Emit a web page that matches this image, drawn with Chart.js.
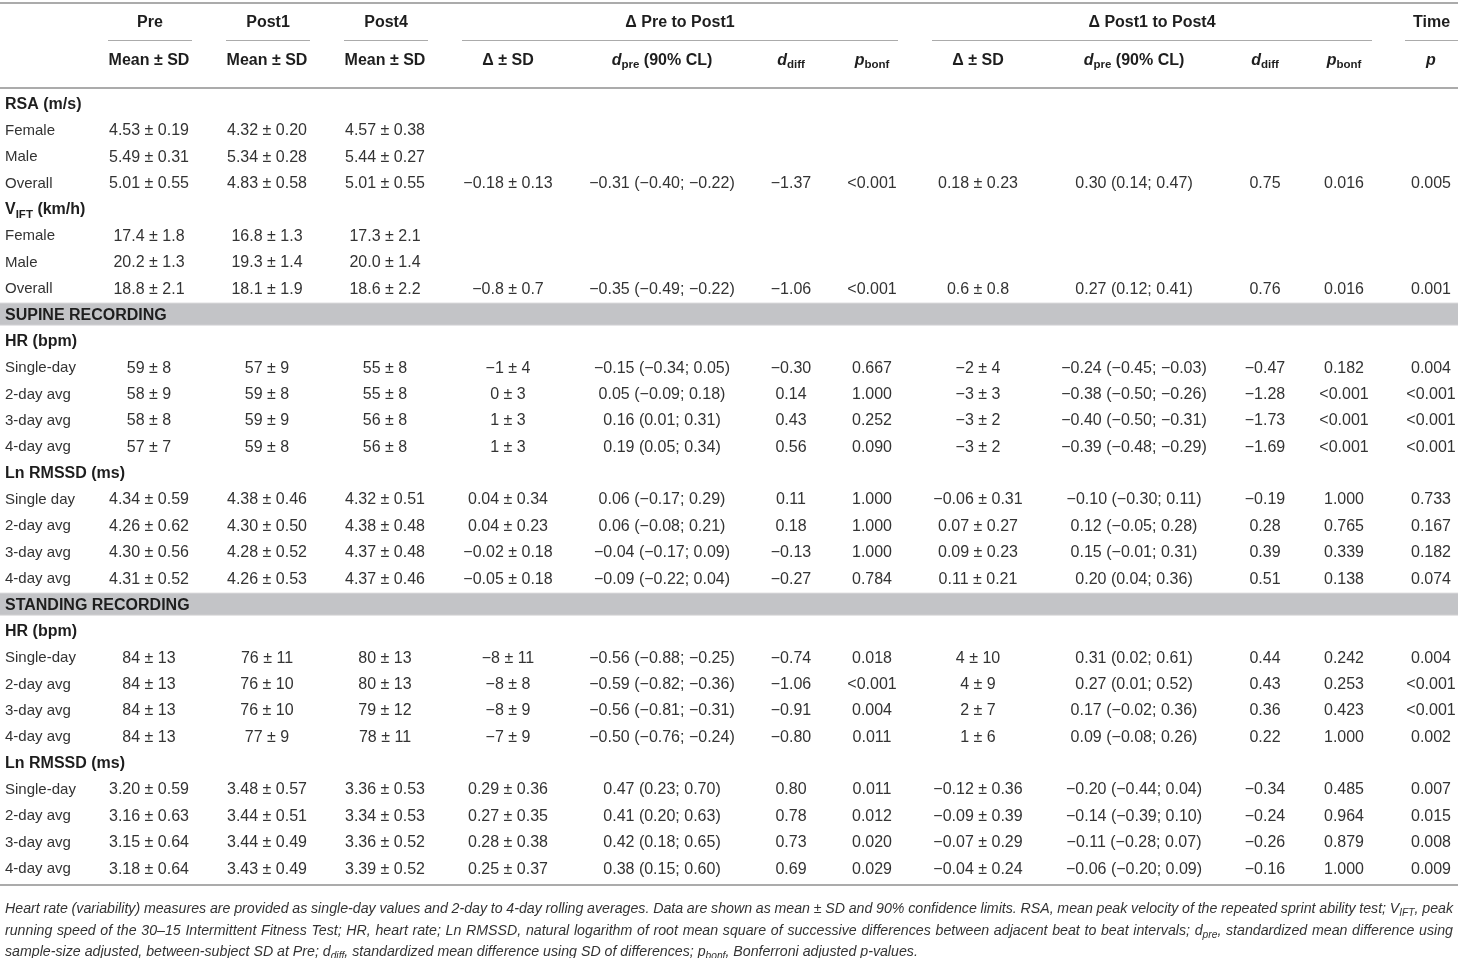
<!DOCTYPE html>
<html>
<head>
<meta charset="utf-8">
<script src="https://cdn.jsdelivr.net/npm/chart.js@4.4.0/dist/chart.umd.min.js"></script>
<style>
  html, body { margin: 0; padding: 0; background: #fff; }
  #wrap { width: 1458px; height: 958px; }
</style>
</head>
<body>
<div id="wrap"><canvas id="tbl"></canvas></div>
<script>
// ---- data ----
// row kinds: h = group heading (bold), r = normal row, b = grey band
const rowKinds = ['h','r','r','r','h','r','r','r','b','h','r','r','r','r','h','r','r','r','r','b','h','r','r','r','r','h','r','r','r','r'];
const rowLabels = [
  'RSA (m/s)', 'Female', 'Male', 'Overall',
  'V_{IFT} (km/h)', 'Female', 'Male', 'Overall',
  'SUPINE RECORDING',
  'HR (bpm)', 'Single-day', '2-day avg', '3-day avg', '4-day avg',
  'Ln RMSSD (ms)', 'Single day', '2-day avg', '3-day avg', '4-day avg',
  'STANDING RECORDING',
  'HR (bpm)', 'Single-day', '2-day avg', '3-day avg', '4-day avg',
  'Ln RMSSD (ms)', 'Single-day', '2-day avg', '3-day avg', '4-day avg'
];

const preVals = ['', '4.53 ± 0.19', '5.49 ± 0.31', '5.01 ± 0.55', '', '17.4 ± 1.8', '20.2 ± 1.3', '18.8 ± 2.1', '',
  '', '59 ± 8', '58 ± 9', '58 ± 8', '57 ± 7', '', '4.34 ± 0.59', '4.26 ± 0.62', '4.30 ± 0.56', '4.31 ± 0.52', '',
  '', '84 ± 13', '84 ± 13', '84 ± 13', '84 ± 13', '', '3.20 ± 0.59', '3.16 ± 0.63', '3.15 ± 0.64', '3.18 ± 0.64'];
const post1Vals = ['', '4.32 ± 0.20', '5.34 ± 0.28', '4.83 ± 0.58', '', '16.8 ± 1.3', '19.3 ± 1.4', '18.1 ± 1.9', '',
  '', '57 ± 9', '59 ± 8', '59 ± 9', '59 ± 8', '', '4.38 ± 0.46', '4.30 ± 0.50', '4.28 ± 0.52', '4.26 ± 0.53', '',
  '', '76 ± 11', '76 ± 10', '76 ± 10', '77 ± 9', '', '3.48 ± 0.57', '3.44 ± 0.51', '3.44 ± 0.49', '3.43 ± 0.49'];
const post4Vals = ['', '4.57 ± 0.38', '5.44 ± 0.27', '5.01 ± 0.55', '', '17.3 ± 2.1', '20.0 ± 1.4', '18.6 ± 2.2', '',
  '', '55 ± 8', '55 ± 8', '56 ± 8', '56 ± 8', '', '4.32 ± 0.51', '4.38 ± 0.48', '4.37 ± 0.48', '4.37 ± 0.46', '',
  '', '80 ± 13', '80 ± 13', '79 ± 12', '78 ± 11', '', '3.36 ± 0.53', '3.34 ± 0.53', '3.36 ± 0.52', '3.39 ± 0.52'];

const deltaA = ['', '', '', '−0.18 ± 0.13', '', '', '', '−0.8 ± 0.7', '',
  '', '−1 ± 4', '0 ± 3', '1 ± 3', '1 ± 3', '', '0.04 ± 0.34', '0.04 ± 0.23', '−0.02 ± 0.18', '−0.05 ± 0.18', '',
  '', '−8 ± 11', '−8 ± 8', '−8 ± 9', '−7 ± 9', '', '0.29 ± 0.36', '0.27 ± 0.35', '0.28 ± 0.38', '0.25 ± 0.37'];
const dpreA = ['', '', '', '−0.31 (−0.40; −0.22)', '', '', '', '−0.35 (−0.49; −0.22)', '',
  '', '−0.15 (−0.34; 0.05)', '0.05 (−0.09; 0.18)', '0.16 (0.01; 0.31)', '0.19 (0.05; 0.34)', '',
  '0.06 (−0.17; 0.29)', '0.06 (−0.08; 0.21)', '−0.04 (−0.17; 0.09)', '−0.09 (−0.22; 0.04)', '',
  '', '−0.56 (−0.88; −0.25)', '−0.59 (−0.82; −0.36)', '−0.56 (−0.81; −0.31)', '−0.50 (−0.76; −0.24)', '',
  '0.47 (0.23; 0.70)', '0.41 (0.20; 0.63)', '0.42 (0.18; 0.65)', '0.38 (0.15; 0.60)'];
const ddiffA = ['', '', '', '−1.37', '', '', '', '−1.06', '',
  '', '−0.30', '0.14', '0.43', '0.56', '', '0.11', '0.18', '−0.13', '−0.27', '',
  '', '−0.74', '−1.06', '−0.91', '−0.80', '', '0.80', '0.78', '0.73', '0.69'];
const pbonfA = ['', '', '', '<0.001', '', '', '', '<0.001', '',
  '', '0.667', '1.000', '0.252', '0.090', '', '1.000', '1.000', '1.000', '0.784', '',
  '', '0.018', '<0.001', '0.004', '0.011', '', '0.011', '0.012', '0.020', '0.029'];

const deltaB = ['', '', '', '0.18 ± 0.23', '', '', '', '0.6 ± 0.8', '',
  '', '−2 ± 4', '−3 ± 3', '−3 ± 2', '−3 ± 2', '', '−0.06 ± 0.31', '0.07 ± 0.27', '0.09 ± 0.23', '0.11 ± 0.21', '',
  '', '4 ± 10', '4 ± 9', '2 ± 7', '1 ± 6', '', '−0.12 ± 0.36', '−0.09 ± 0.39', '−0.07 ± 0.29', '−0.04 ± 0.24'];
const dpreB = ['', '', '', '0.30 (0.14; 0.47)', '', '', '', '0.27 (0.12; 0.41)', '',
  '', '−0.24 (−0.45; −0.03)', '−0.38 (−0.50; −0.26)', '−0.40 (−0.50; −0.31)', '−0.39 (−0.48; −0.29)', '',
  '−0.10 (−0.30; 0.11)', '0.12 (−0.05; 0.28)', '0.15 (−0.01; 0.31)', '0.20 (0.04; 0.36)', '',
  '', '0.31 (0.02; 0.61)', '0.27 (0.01; 0.52)', '0.17 (−0.02; 0.36)', '0.09 (−0.08; 0.26)', '',
  '−0.20 (−0.44; 0.04)', '−0.14 (−0.39; 0.10)', '−0.11 (−0.28; 0.07)', '−0.06 (−0.20; 0.09)'];
const ddiffB = ['', '', '', '0.75', '', '', '', '0.76', '',
  '', '−0.47', '−1.28', '−1.73', '−1.69', '', '−0.19', '0.28', '0.39', '0.51', '',
  '', '0.44', '0.43', '0.36', '0.22', '', '−0.34', '−0.24', '−0.26', '−0.16'];
const pbonfB = ['', '', '', '0.016', '', '', '', '0.016', '',
  '', '0.182', '<0.001', '<0.001', '<0.001', '', '1.000', '0.765', '0.339', '0.138', '',
  '', '0.242', '0.253', '0.423', '1.000', '', '0.485', '0.964', '0.879', '1.000'];
const timeP = ['', '', '', '0.005', '', '', '', '0.001', '',
  '', '0.004', '<0.001', '<0.001', '<0.001', '', '0.733', '0.167', '0.182', '0.074', '',
  '', '0.004', '<0.001', '<0.001', '0.002', '', '0.007', '0.015', '0.008', '0.009'];

const groupHeaders = ['Pre', 'Post1', 'Post4', 'Δ Pre to Post1', 'Δ Post1 to Post4', 'Time'];
const subHeaders = ['Mean ± SD', 'Mean ± SD', 'Mean ± SD', 'Δ ± SD', '*d*_{pre} (90% CL)', '*d*_{diff}', '*p*_{bonf}',
  'Δ ± SD', '*d*_{pre} (90% CL)', '*d*_{diff}', '*p*_{bonf}', '*p*'];

const footnote = [
  'Heart rate (variability) measures are provided as single-day values and 2-day to 4-day rolling averages. Data are shown as mean ± SD and 90% confidence limits. RSA, mean peak velocity of the repeated sprint ability test; V_{IFT}, peak',
  'running speed of the 30–15 Intermittent Fitness Test; HR, heart rate; Ln RMSSD, natural logarithm of root mean square of successive differences between adjacent beat to beat intervals; d_{pre}, standardized mean difference using',
  'sample-size adjusted, between-subject SD at Pre; d_{diff}, standardized mean difference using SD of differences; p_{bonf}, Bonferroni adjusted p-values.'
];

// ---- layout ----
const columns = [preVals, post1Vals, post4Vals, deltaA, dpreA, ddiffA, pbonfA, deltaB, dpreB, ddiffB, pbonfB, timeP];
const colX = [149, 267, 385, 508, 662, 791, 872, 978, 1134, 1265, 1344, 1431];
const groupSpans = [[108, 192], [226, 310], [344, 428], [462, 898], [932, 1372], [1405, 1458]];
const labelX = 5;
const FONT = '"Liberation Sans", Arial, Helvetica, sans-serif';
const TXT = '#333';
const HEAD = '#1e1e1e';
const RULE = '#ababab';

// tiny markup: *x* italic, _{x} subscript
function parse(str) {
  return str.split(/(\*[^*]+\*|_\{[^}]+\})/).filter(s => s.length).map(s => {
    if (s[0] === '*') return { t: s.slice(1, -1), it: true };
    if (s[0] === '_') return { t: s.slice(2, -1), sub: true };
    return { t: s };
  });
}

function segFont(seg, o) {
  const size = seg.sub ? o.size * 0.72 : o.size;
  return (seg.it || o.italic ? 'italic ' : '') + (o.weight || 'normal') + ' ' + size + 'px ' + FONT;
}

function drawRich(ctx, str, x, cy, o) {
  const segs = parse(str);
  ctx.save();
  ctx.fillStyle = o.color || TXT;
  ctx.textBaseline = 'alphabetic';
  ctx.textAlign = 'left';
  const base = cy + o.size * 0.36;
  // split into words / spaces so lines can be justified
  const pieces = [];
  segs.forEach(seg => {
    seg.t.split(/( )/).forEach(p => {
      if (p === '') return;
      pieces.push({ t: p, seg, space: p === ' ' });
    });
  });
  let total = 0, nSp = 0;
  pieces.forEach(p => {
    ctx.font = segFont(p.seg, o);
    p.w = ctx.measureText(p.t).width;
    total += p.w;
    if (p.space) nSp++;
  });
  let extra = 0;
  if (o.justify && nSp) extra = (o.justify - total) / nSp;
  let sx = x;
  if (o.align === 'center') sx = x - total / 2;
  else if (o.align === 'right') sx = x - total;
  pieces.forEach(p => {
    ctx.font = segFont(p.seg, o);
    if (!p.space) ctx.fillText(p.t, sx, p.seg.sub ? base + o.size * 0.22 : base);
    sx += p.w + (p.space ? extra : 0);
  });
  ctx.restore();
}

const tablePlugin = {
  id: 'tablePlugin',
  beforeDatasetsDraw(chart) {
    const { ctx, chartArea, scales } = chart;
    const W = chart.width;
    ctx.save();
    // grey section bands
    rowKinds.forEach((k, i) => {
      if (k !== 'b') return;
      const y = scales.y.getPixelForValue(i);
      ctx.fillStyle = '#d6d6d8';
      ctx.fillRect(0, y - 11.5, W, 23);
      ctx.fillStyle = '#c3c4c7';
      ctx.fillRect(0, y - 10.5, W, 21);
    });
    // rules
    ctx.fillStyle = RULE;
    ctx.fillRect(0, 2, W, 2);
    groupSpans.forEach(s => ctx.fillRect(s[0], 40, s[1] - s[0], 1));
    ctx.fillRect(0, chartArea.top - 3, W, 2);
    ctx.fillRect(0, chartArea.bottom + 3, W, 2);
    ctx.restore();
    // headers
    groupHeaders.forEach((h, i) => {
      const s = groupSpans[i];
      drawRich(ctx, h, (s[0] + s[1]) / 2, 21, { size: 16, weight: 'bold', color: HEAD, align: 'center' });
    });
    subHeaders.forEach((h, i) => {
      drawRich(ctx, h, colX[i], 59, { size: 16, weight: 'bold', color: HEAD, align: 'center' });
    });
    // footnote
    footnote.forEach((line, i) => {
      drawRich(ctx, line, 5, 908 + i * 21.5, { size: 14.2, italic: true, color: TXT, justify: i < 2 ? 1448 : 0 });
    });
  },
  afterDatasetsDraw(chart) {
    const { ctx } = chart;
    chart.data.datasets.forEach((ds, d) => {
      const meta = chart.getDatasetMeta(d);
      meta.data.forEach((el, i) => {
        const txt = ds.texts[i];
        if (!txt) return;
        if (ds.isLabel) {
          const bold = rowKinds[i] !== 'r';
          drawRich(ctx, txt, el.x, el.y, { size: bold ? 16 : 15, weight: bold ? 'bold' : 'normal', color: bold ? HEAD : TXT, align: 'left' });
        } else {
          drawRich(ctx, txt, el.x, el.y, { size: 16, color: TXT, align: 'center' });
        }
      });
    });
  }
};

const datasets = [{
  label: 'rows',
  isLabel: true,
  texts: rowLabels,
  data: rowLabels.map((_, i) => ({ x: labelX, y: i })),
  pointRadius: 0
}];
columns.forEach((col, c) => {
  datasets.push({
    label: 'col' + c,
    texts: col,
    data: col.map((_, i) => ({ x: colX[c], y: i })),
    pointRadius: 0
  });
});

new Chart(document.getElementById('tbl'), {
  type: 'scatter',
  data: { datasets },
  options: {
    responsive: true,
    maintainAspectRatio: false,
    animation: false,
    events: [],
    layout: { padding: { top: 90, bottom: 77, left: 0, right: 0 } },
    scales: {
      x: { type: 'linear', display: false, min: 0, max: 1458 },
      y: { type: 'linear', display: false, reverse: true, min: -0.5, max: 29.5 }
    },
    plugins: { legend: { display: false }, tooltip: { enabled: false } }
  },
  plugins: [tablePlugin]
});
</script>
</body>
</html>
